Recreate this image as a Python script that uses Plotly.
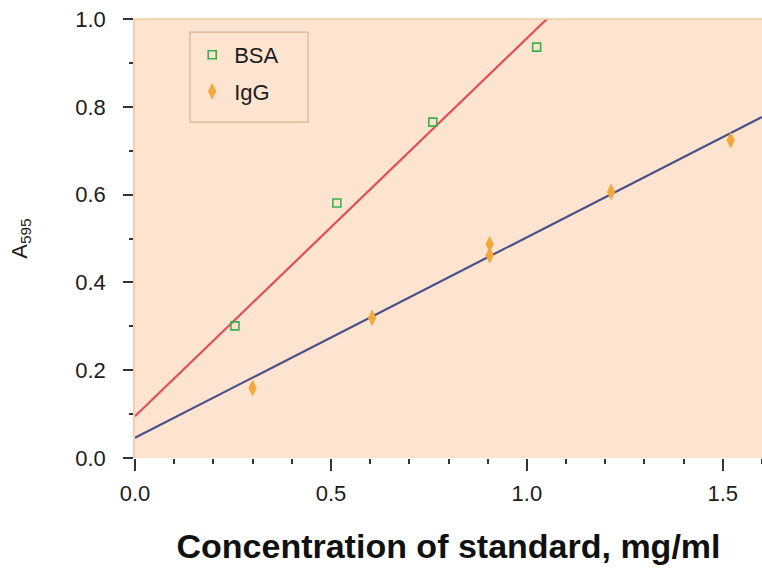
import plotly.graph_objects as go

# Data
bsa_x = [0.255, 0.515, 0.76, 1.025]
bsa_y = [0.301, 0.581, 0.765, 0.936]

igg_x = [0.30, 0.605, 0.905, 0.905, 1.215, 1.52]
igg_y = [0.159, 0.319, 0.487, 0.462, 0.606, 0.724]

bsa_fit_x = [0.0, 1.051]
bsa_fit_y = [0.095, 1.0]
igg_fit_x = [0.0, 1.6]
igg_fit_y = [0.046, 0.777]

x_ticks = [0.0, 0.5, 1.0, 1.5]
y_ticks = [0.0, 0.2, 0.4, 0.6, 0.8, 1.0]

FONT = "Liberation Sans, Arial, Helvetica, sans-serif"
TXT = "#1c1c1c"

fig = go.Figure()
fig.add_trace(go.Scatter(x=bsa_fit_x, y=bsa_fit_y, mode="lines",
                         line=dict(color="#e34d55", width=2.2),
                         showlegend=False, hoverinfo="skip"))
fig.add_trace(go.Scatter(x=igg_fit_x, y=igg_fit_y, mode="lines",
                         line=dict(color="#4a5088", width=2.2),
                         showlegend=False, hoverinfo="skip"))
fig.add_trace(go.Scatter(x=bsa_x, y=bsa_y, mode="markers", name="BSA",
                         legendgroup="a",
                         marker=dict(symbol="square-open", size=8,
                                     color="#3dae4c", line=dict(width=1.6))))
fig.add_trace(go.Scatter(x=igg_x, y=igg_y, mode="markers", name="IgG",
                         legendgroup="b",
                         marker=dict(symbol="diamond-tall", size=12,
                                     color="#f2a83c", line=dict(width=0))))

fig.update_layout(
    width=762, height=570,
    margin=dict(l=135, r=0, t=19, b=112),
    paper_bgcolor="white",
    plot_bgcolor="#fde4d1",
    font=dict(family=FONT, size=22, color=TXT),
    legend=dict(x=0.088, y=0.966, xanchor="left", yanchor="top",
                bgcolor="rgba(0,0,0,0)", borderwidth=0,
                font=dict(size=22, color=TXT), traceorder="grouped",
                tracegroupgap=5, itemwidth=34),
    xaxis=dict(range=[0, 1.6], tickvals=x_ticks, tickformat=".1f",
               ticks="outside", ticklen=12, tickwidth=1.6, tickcolor="#333",
               showgrid=False, zeroline=False, showline=False,
               ticklabelstandoff=4,
               minor=dict(dtick=0.1, ticks="outside", ticklen=5,
                          tickwidth=1.6, tickcolor="#333", showgrid=False),
               title=dict(text="Concentration of standard, mg/ml",
                          font=dict(size=34, color="#111", family=FONT,
                                    weight="bold"),
                          standoff=28)),
    yaxis=dict(range=[0, 1.0], tickvals=y_ticks, tickformat=".1f",
               ticks="outside", ticklen=10, tickwidth=1.6, tickcolor="#333",
               showgrid=False, zeroline=False, showline=True,
               linecolor="#f5cdb0", linewidth=1.5,
               ticklabelstandoff=13,
               minor=dict(dtick=0.1, ticks="outside", ticklen=4,
                          tickwidth=1.6, tickcolor="#333", showgrid=False),
               title=dict(text="A<sub>595</sub>",
                          font=dict(size=22, color=TXT, family=FONT),
                          standoff=42)),
    shapes=[
        dict(type="line", xref="paper", yref="paper", x0=0, x1=1,
             y0=1, y1=1, line=dict(color="#f2c8a2", width=1.5)),
        # legend frame
        dict(type="rect", xref="paper", yref="paper",
             x0=0.0877, x1=0.276, y0=0.765, y1=0.970,
             line=dict(color="#d9b492", width=1.2), fillcolor="rgba(0,0,0,0)"),
    ],
)

fig.write_html("out.html",
               config={"displayModeBar": False},
               post_script="document.body.style.margin='0px';"
                           "document.body.style.overflow='hidden';")
